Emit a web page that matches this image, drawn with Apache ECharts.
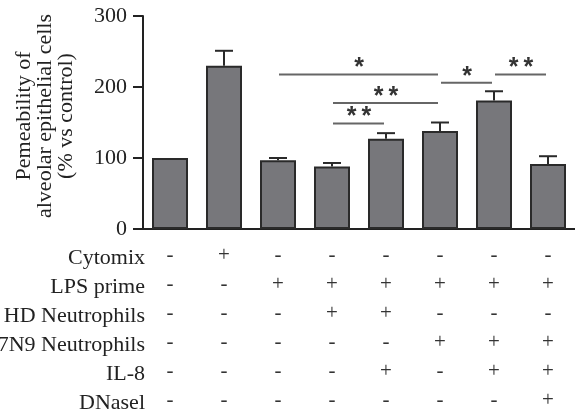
<!DOCTYPE html>
<html>
<head>
<meta charset="utf-8">
<script src="https://cdn.jsdelivr.net/npm/echarts@6/dist/echarts.min.js"></script>
<style>
html,body{margin:0;padding:0;background:#fff;}
#c{width:575px;height:415px;}
</style>
</head>
<body>
<div id="c"></div>
<script>
// ---- data ----
const categories = ['Control', 'Cytomix', 'LPS', 'LPS+HD', 'LPS+HD+IL-8', 'LPS+H7N9', 'LPS+H7N9+IL-8', 'LPS+H7N9+IL-8+DNase'];
const means = [100, 230, 97, 88, 127, 138, 181, 91.5];
const errTop = [null, 251, 100, 93, 135, 150, 194, 102.5];
const yTicks = { min: 0, max: 300, interval: 100 };
const rowLabels = ['Cytomix', 'LPS prime', 'HD Neutrophils', 'H7N9 Neutrophils', 'IL-8', 'DNasel'];
const signRows = [
  ['-', '+', '-', '-', '-', '-', '-', '-'],
  ['-', '-', '+', '+', '+', '+', '+', '+'],
  ['-', '-', '-', '+', '+', '-', '-', '-'],
  ['-', '-', '-', '-', '-', '+', '+', '+'],
  ['-', '-', '-', '-', '+', '-', '+', '+'],
  ['-', '-', '-', '-', '-', '-', '-', '+']
];
// [from category, to category, y value, label]
const brackets = [
  [2, 5, 217.6, '*'],
  [5, 6, 206, '*'],
  [6, 7, 217.6, '**'],
  [3, 5, 177.5, '**'],
  [3, 4, 148.6, '**']
];
const yTitle = ['Pemeability of', 'alveolar epithelial cells', '(% vs control)'];

// ---- chart ----
const SERIF = '"Liberation Serif", "Times New Roman", serif';
const chart = echarts.init(document.getElementById('c'), null, { renderer: 'canvas' });

const errData = [];
means.forEach((m, i) => { if (errTop[i] != null) errData.push([i, m, errTop[i]]); });

const ROW_H = 29;

chart.setOption({
  animation: false,
  backgroundColor: '#fff',
  grid: { left: 143, right: 0, top: 16, bottom: 182, containLabel: false },
  xAxis: {
    type: 'category',
    data: categories,
    axisLine: { show: true, lineStyle: { color: '#222', width: 2 } },
    axisTick: { show: false },
    axisLabel: {
      interval: 0,
      margin: 12,
      fontFamily: SERIF,
      fontSize: 21,
      color: '#333',
      lineHeight: ROW_H,
      formatter: (v, idx) => signRows.map(r => r[idx]).join('\n')
    }
  },
  yAxis: {
    type: 'value',
    min: yTicks.min, max: yTicks.max, interval: yTicks.interval,
    axisLine: { show: true, lineStyle: { color: '#222', width: 2 } },
    axisTick: { show: true, inside: false, length: 10, lineStyle: { color: '#222', width: 2 } },
    splitLine: { show: false },
    axisLabel: { margin: 16, fontFamily: SERIF, fontSize: 22, color: '#222' }
  },
  graphic: [
    {
      type: 'text',
      x: 45, y: 116,
      rotation: Math.PI / 2,
      style: {
        text: yTitle.join('\n'),
        align: 'center', verticalAlign: 'middle',
        fontFamily: SERIF, fontSize: 22, lineHeight: 21,
        fill: '#222'
      }
    }
  ].concat(rowLabels.map((t, i) => ({
    type: 'text',
    x: 145, y: 258 + ROW_H * i,
    style: {
      text: t, align: 'right', verticalAlign: 'middle',
      fontFamily: SERIF, fontSize: 22, fill: '#222'
    }
  }))),
  series: [
    {
      type: 'bar',
      data: means,
      barWidth: 36,
      itemStyle: { color: '#77777b', borderColor: '#2a2a2a', borderWidth: 2 },
      z: 2
    },
    {
      type: 'custom',
      data: errData,
      z: 3,
      renderItem: (params, api) => {
        const x = api.value(0);
        const p0 = api.coord([x, api.value(1)]);
        const p1 = api.coord([x, api.value(2)]);
        const hw = 9;
        const st = { stroke: '#2a2a2a', lineWidth: 2 };
        return {
          type: 'group',
          children: [
            { type: 'line', shape: { x1: p0[0], y1: p0[1], x2: p1[0], y2: p1[1] }, style: st },
            { type: 'line', shape: { x1: p1[0] - hw, y1: p1[1], x2: p1[0] + hw, y2: p1[1] }, style: st }
          ]
        };
      }
    },
    {
      type: 'custom',
      data: brackets.map(b => [b[0], b[1], b[2]]),
      z: 3,
      renderItem: (params, api) => {
        const a = api.coord([api.value(0), api.value(2)]);
        const b = api.coord([api.value(1), api.value(2)]);
        const lab = brackets[params.dataIndex][3];
        const txt = lab.split('').join('\u2009');
        return {
          type: 'group',
          children: [
            { type: 'line', shape: { x1: a[0] + 1, y1: a[1], x2: b[0] - 2, y2: b[1] },
              style: { stroke: '#666', lineWidth: 2 } },
            { type: 'text', x: (a[0] + b[0]) / 2, y: a[1] - 6,
              style: { text: txt, align: 'center', verticalAlign: 'middle',
                       fontFamily: '"Liberation Sans", Arial, sans-serif', fontWeight: 'bold',
                       fontSize: 25, fill: '#333' } }
          ]
        };
      }
    }
  ]
});
</script>
</body>
</html>
